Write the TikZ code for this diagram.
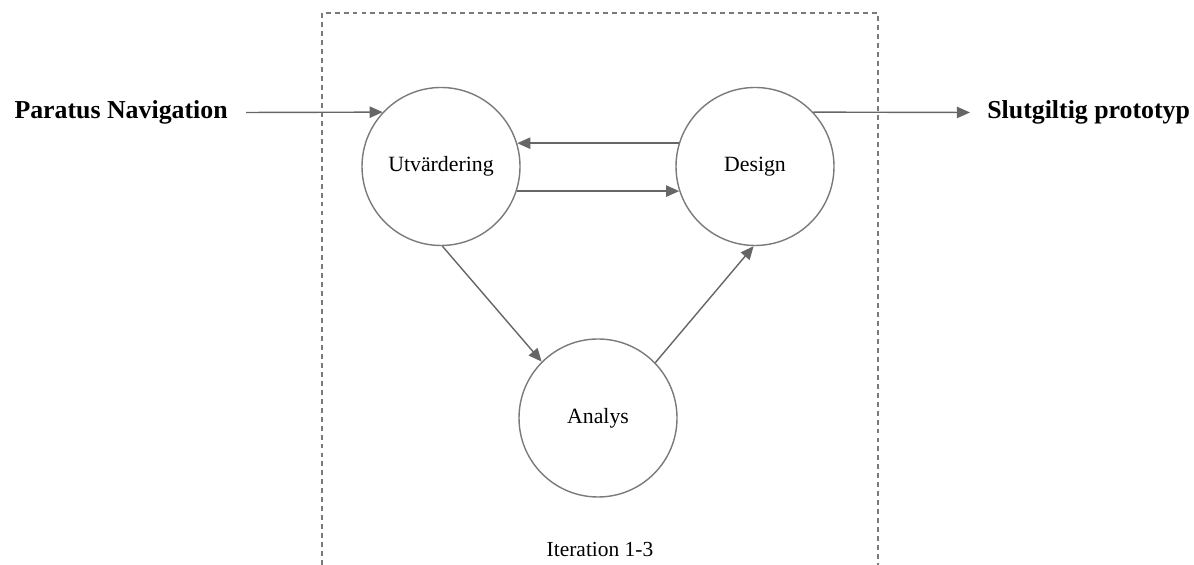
\documentclass[tikz,border=0pt]{standalone}
\usepackage{fontspec}
\setmainfont{Liberation Serif}
\usepackage{xcolor}
\usetikzlibrary{arrows.meta}
\definecolor{ringgray}{HTML}{7A7A7A}
\definecolor{arrowgray}{HTML}{666666}
\tikzset{
	phase/.style={
			circle, draw=ringgray, line width=0.8pt, minimum size=3.16cm,
			inner sep=0pt, font=\fontsize{12.4}{14}\selectfont
		},
	flow/.style={
			draw=arrowgray, line width=0.8pt,
			-{Triangle[length=7.5pt,width=6.5pt]}, arrowgray
		},
	bigtext/.style={font=\fontsize{14.7}{17}\selectfont\bfseries}
}

\begin{document}
\begin{tikzpicture}
		\useasboundingbox (0,0) rectangle (23.88,11.3);
		%--- Iteration frame (open at the bottom) ---
		\coordinate (BL) at (6.44,0);
		\coordinate (TL) at (6.44,11.04);
		\coordinate (TR) at (17.56,11.04);
		\coordinate (BR) at (17.56,0);
		\draw[ringgray, line width=0.6pt, dash pattern=on 2.8pt off 2.3pt] (BL) -- (TL) -- (TR) -- (BR);
		\node[font=\fontsize{12.2}{14}\selectfont] (iter) at (12.0,0.3) {Iteration 1-3};

		%--- The three phases ---
		\node[phase] (utv) at (8.82,7.97) {Utvärdering};
		\node[phase] (des) at (15.10,7.97) {Design};
		\node[phase] (ana) at (11.96,2.94) {Analys};

		%--- Input and output ---
		\node[bigtext, anchor=east, inner xsep=0.36cm] (start) at (4.92,9.05) {Paratus Navigation};
		\node[bigtext, anchor=west, inner xsep=0.34cm] (final) at (19.40,9.05) {Slutgiltig prototyp};

		%--- Connectors ---
		\draw[flow] (start.east) -- (utv.137);
		\draw[flow] (des.43.5) -- (final.west);
		\draw[flow] (des.163) -- (utv.17);
		\draw[flow] (utv.-18) -- (des.198);
		\draw[flow] (utv.-89) -- (ana.135);
		\draw[flow] (ana.44.5) -- (des.-91);
	\end{tikzpicture}
\end{document}
